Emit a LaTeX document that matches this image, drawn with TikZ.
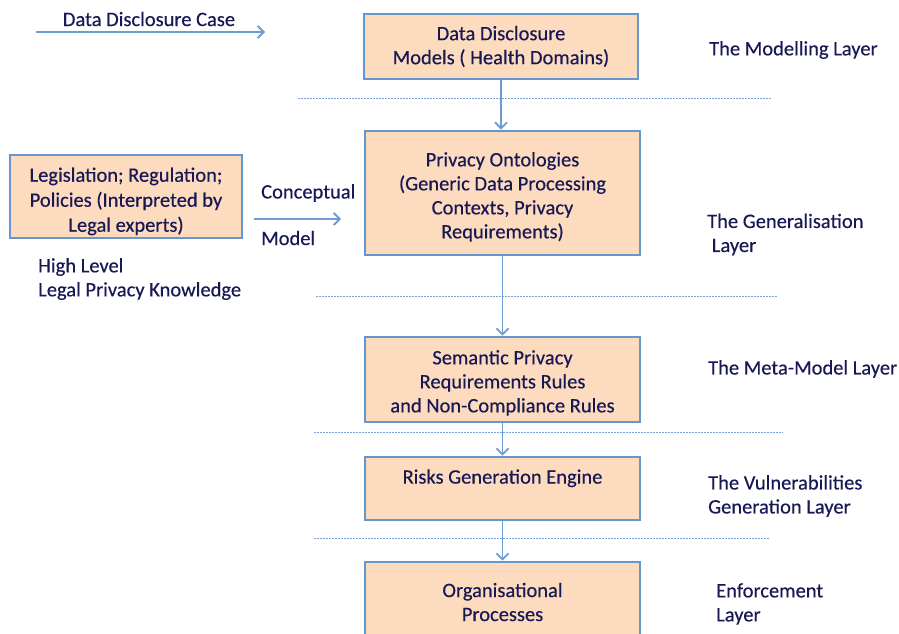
\documentclass[tikz,border=0pt]{standalone}
\usepackage{fontspec}
\setmainfont{Carlito}[FakeBold=0.35]
\usetikzlibrary{arrows.meta}
\definecolor{txt}{RGB}{24,24,84}
\definecolor{boxfill}{RGB}{252,219,190}
\definecolor{boxline}{RGB}{102,150,206}
\definecolor{arr}{RGB}{110,155,208}
\definecolor{dash}{RGB}{120,165,215}
\tikzset{
  every node/.style={text=txt, font=\fontsize{20.5}{24}\selectfont},
  layerbox/.style={draw=boxline, line width=2.9pt, fill=boxfill, align=center, inner sep=0pt},
  flow/.style={draw=arr, line width=1.3pt, -{Straight Barb[length=6pt,width=12pt,line width=1.8pt]}},
  sep/.style={draw=dash, line width=0.9pt, dash pattern=on 2pt off 1pt},
  plain/.style={align=left, inner sep=0pt, anchor=west},
}
\begin{document}
\begin{tikzpicture}[x=1pt,y=-1pt]
\useasboundingbox (0,0) rectangle (899,634);
\clip (0,0) rectangle (899,634);
% boxes
\node[layerbox, minimum width=274pt, minimum height=65pt] (m) at (501,46.5) {Data Disclosure\\Models ( Health Domains)};
\node[layerbox, minimum width=275pt, minimum height=124pt] (o) at (502.5,193) {\mbox{}\\[-2pt]Privacy Ontologies\\(Generic Data Processing\\Contexts, Privacy\\Requirements)};
\node[layerbox, minimum width=232pt, minimum height=83pt] (l) at (126,196.5) {\mbox{}\\Legislation; Regulation;\\[1pt]Policies (Interpreted by\\[1pt]Legal experts)};
\node[layerbox, minimum width=275pt, minimum height=85pt] (s) at (502.5,379.5) {\mbox{}\\[-3pt]Semantic Privacy\\Requirements Rules\\and Non-Compliance Rules};
\node[layerbox, minimum width=275pt, minimum height=63pt] (r) at (502.5,488.5) {Risks Generation Engine\\\mbox{}};
\node[layerbox, minimum width=275pt, minimum height=80pt] (p) at (502.5,602) {Organisational\\Processes};
% separators
\coordinate (d1a) at (298,98); \coordinate (d1b) at (772,98);
\coordinate (d2a) at (316,296); \coordinate (d2b) at (777,296);
\coordinate (d3a) at (314,432); \coordinate (d3b) at (783,432);
\coordinate (d4a) at (314,538); \coordinate (d4b) at (770,538);
\draw[sep] (d1a) -- (d1b);
\draw[sep] (d2a) -- (d2b);
\draw[sep] (d3a) -- (d3b);
\draw[sep] (d4a) -- (d4b);
% vertical flow
\draw[flow] (m.south) -- (m.south |- o.north);
\draw[flow] (o.south) -- (o.south |- s.north);
\draw[flow] (s.south) -- (s.south |- r.north);
\draw[flow] (r.south) -- (r.south |- p.north);
% input arrows
\coordinate (c0) at (36,32);
\coordinate (c1) at (265,32);
\draw[flow] (c0) -- (c1);
\node[inner sep=0pt] (dc) at (149,19) {Data Disclosure Case};
\coordinate (k0) at (254,219);
\coordinate (k1) at (341,219);
\draw[flow] (k0) -- (k1);
\node[plain] (cm1) at (261,193) {Conceptual};
\node[plain] (cm2) at (261,238) {Model};
\node[plain] (hl) at (38,279) {High Level\\Legal Privacy Knowledge};
% layer labels
\node[plain] (L1) at (709,50) {The Modelling Layer};
\node[plain] (L2) at (707,234.5) {The Generalisation\\\ Layer};
\node[plain] (L3) at (708,369) {The Meta-Model Layer};
\node[plain] (L4) at (708,496) {The Vulnerabilities\\Generation Layer};
\node[plain] (L5) at (716,604) {Enforcement\\Layer};
\end{tikzpicture}
\end{document}
